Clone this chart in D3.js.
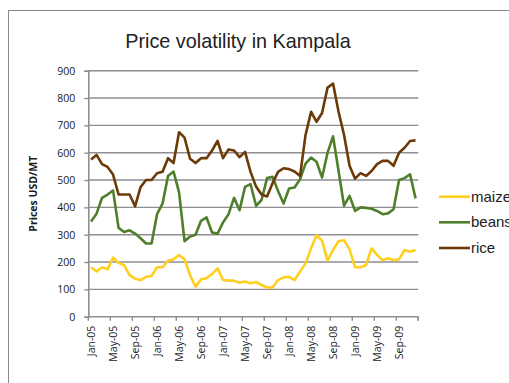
<!DOCTYPE html>
<html>
<head>
<meta charset="utf-8">
<script src="https://cdn.jsdelivr.net/npm/d3@7"></script>
<style>
  html, body { margin: 0; padding: 0; background: #fff; }
  svg { display: block; }
</style>
</head>
<body>
<svg id="chart" width="509" height="383"></svg>
<script>
// Monthly prices in Kampala, Jan 2005 – Dec 2009 (USD per metric tonne)
const months = d3.range(60).map(i => new Date(2005, i, 1));
const monthLabel = d3.timeFormat("%b-%y");

const maize = [181,165,181,173,216,197,189,152,139,134,146,149,
               181,181,205,210,226,210,152,110,137,141,156,177,
               134,132,132,124,129,122,127,116,107,107,134,144,
               146,134,165,195,250,298,278,205,244,276,280,246,
               181,181,189,250,226,207,214,207,210,244,238,244];

const beans = [348,377,435,447,462,325,310,316,304,287,268,268,
               375,414,515,531,455,276,293,300,351,363,308,304,
               345,375,435,390,475,485,406,427,507,512,460,414,
               469,473,503,560,582,567,509,600,660,533,406,442,
               387,400,398,395,387,375,378,393,500,507,521,433];

const rice = [575,592,558,548,520,447,447,447,404,474,500,500,
              525,530,580,562,675,655,578,562,580,580,608,643,
              580,612,608,584,603,530,476,447,440,488,530,543,
              540,531,515,665,750,713,745,838,853,750,665,552,
              505,525,515,533,558,570,570,552,600,618,643,645];

const yTicks = [0,100,200,300,400,500,600,700,800,900];

const seriesNames = ["maize", "beans", "rice"];
const seriesValues = [maize, beans, rice];
const seriesColors = ["#FFCF1E", "#4F7F2B", "#6B3A07"];

const svg = d3.select("#chart");

// chart frame
svg.append("rect")
  .attr("x", 8.5).attr("y", 10.5)
  .attr("width", 520).attr("height", 400)
  .attr("fill", "none").attr("stroke", "#8a8a8a").attr("stroke-width", 1);

const plot = { left: 88.3, right: 418.3, top: 70.7, bottom: 316.7 };

const x = d3.scaleBand()
  .domain(d3.range(months.length))
  .range([plot.left, plot.right]);

const y = d3.scaleLinear()
  .domain([0, 900])
  .range([plot.bottom, plot.top]);

// horizontal gridlines
svg.append("g")
  .selectAll("line")
  .data(yTicks.filter(d => d > 0))
  .join("line")
  .attr("x1", plot.left).attr("x2", plot.right)
  .attr("y1", d => y(d)).attr("y2", d => y(d))
  .attr("stroke", "#8e8e93").attr("stroke-width", 1.4);

// y axis
const yAxis = svg.append("g")
  .attr("transform", `translate(${plot.left},0)`)
  .call(d3.axisLeft(y).tickValues(yTicks).tickSize(4).tickPadding(9));
yAxis.select(".domain").attr("stroke", "#8e8e93").attr("stroke-width", 1.6);
yAxis.selectAll(".tick line").attr("stroke", "#8e8e93").attr("stroke-width", 1.4);
yAxis.selectAll(".tick text")
  .attr("fill", "#1a1a1a")
  .style("font-family", "'Open Sans', 'Noto Sans', sans-serif")
  .style("font-size", "10.5px");

// x axis: ticks between categories every four months
const xAxisG = svg.append("g");
xAxisG.append("line")
  .attr("x1", plot.left).attr("x2", plot.right)
  .attr("y1", plot.bottom).attr("y2", plot.bottom)
  .attr("stroke", "#8e8e93").attr("stroke-width", 1.6);
const tickIdx = d3.range(0, months.length + 1, 4);
xAxisG.selectAll("line.tk")
  .data(tickIdx.concat([months.length]))
  .join("line")
  .attr("class", "tk")
  .attr("x1", d => d < months.length ? x(d) : plot.right)
  .attr("x2", d => d < months.length ? x(d) : plot.right)
  .attr("y1", plot.bottom).attr("y2", plot.bottom + 4)
  .attr("stroke", "#8e8e93").attr("stroke-width", 1.4);

const labelIdx = d3.range(0, months.length, 4);
xAxisG.selectAll("text")
  .data(labelIdx)
  .join("text")
  .attr("transform", d => `translate(${x(d) + x.bandwidth() / 2 + 3.8},${plot.bottom + 9}) rotate(-90)`)
  .attr("text-anchor", "end")
  .attr("fill", "#1a1a1a")
  .style("font-family", "'Open Sans', 'Noto Sans', sans-serif")
  .style("font-size", "10.5px")
  .text(d => monthLabel(months[d]));

// y axis title
svg.append("text")
  .attr("transform", `translate(37,${(plot.top + plot.bottom) / 2}) rotate(-90)`)
  .attr("text-anchor", "middle")
  .attr("fill", "#1a1a1a")
  .style("font-family", "'Open Sans', 'Noto Sans', sans-serif")
  .style("font-size", "10.5px")
  .style("font-weight", "bold")
  .text("Prices USD/MT");

// chart title
svg.append("text")
  .attr("x", 238).attr("y", 48)
  .attr("text-anchor", "middle")
  .attr("fill", "#222")
  .style("font-family", "'Liberation Sans', Arial, sans-serif")
  .style("font-size", "19.8px")
  .text("Price volatility in Kampala");

// series lines
const line = d3.line()
  .x((d, i) => x(i) + x.bandwidth() / 2)
  .y(d => y(d));

svg.append("g")
  .selectAll("path")
  .data(seriesValues)
  .join("path")
  .attr("d", d => line(d))
  .attr("fill", "none")
  .attr("stroke", (d, i) => seriesColors[i])
  .attr("stroke-width", 2.6)
  .attr("stroke-linejoin", "round");

// legend
const legend = svg.append("g");
const legendY = [196.7, 222.3, 248];
seriesNames.forEach((name, i) => {
  legend.append("line")
    .attr("x1", 439).attr("x2", 470)
    .attr("y1", legendY[i]).attr("y2", legendY[i])
    .attr("stroke", seriesColors[i]).attr("stroke-width", 2.6);
  legend.append("text")
    .attr("x", 471).attr("y", legendY[i] + 5)
    .attr("fill", "#222")
    .style("font-family", "'Liberation Sans', Arial, sans-serif")
    .style("font-size", "15px")
    .text(name);
});
</script>
</body>
</html>
